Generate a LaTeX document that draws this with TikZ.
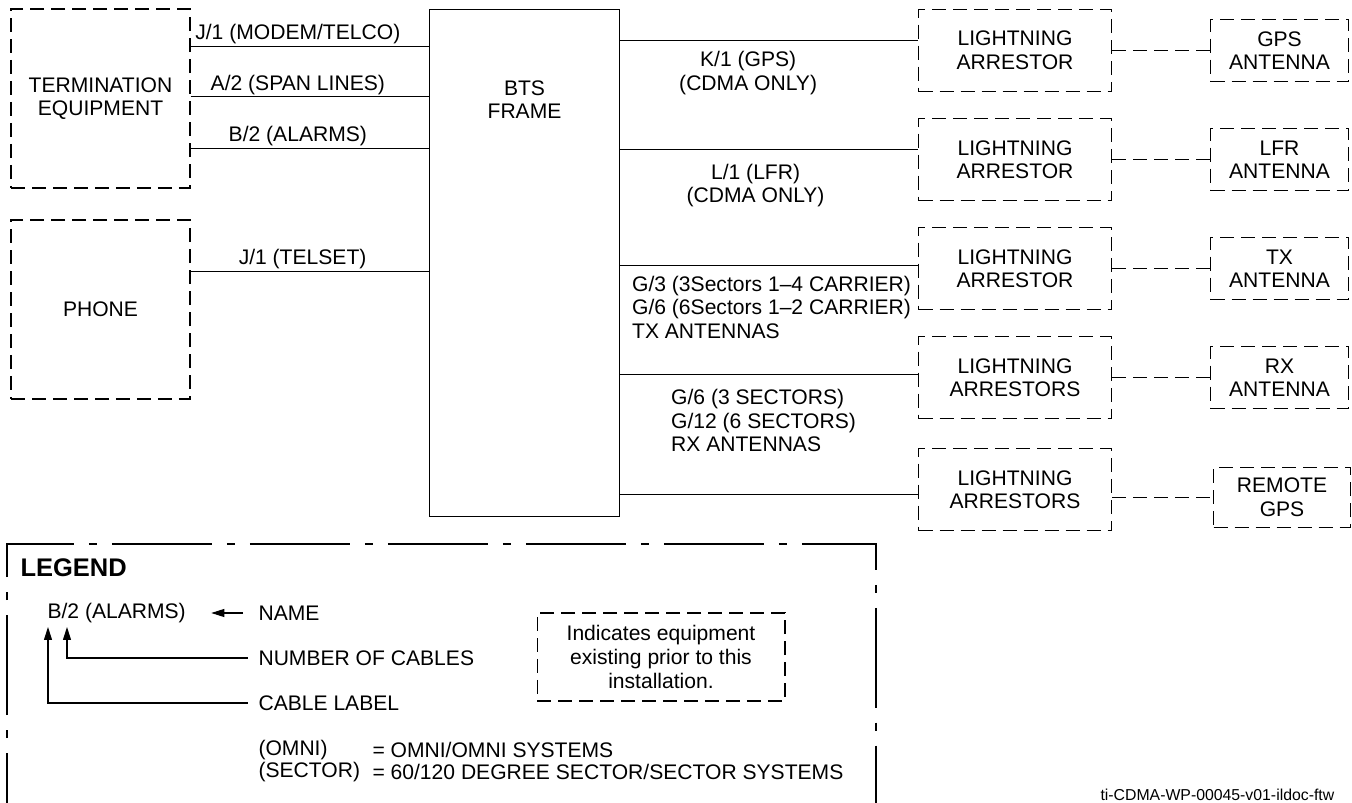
\documentclass[tikz,border=0pt]{standalone}
\usepackage{fontspec}
\setmainfont{Liberation Sans}
\usetikzlibrary{positioning}
\usetikzlibrary{arrows.meta}

\begin{document}
\begin{tikzpicture}[x=0.02cm,y=-0.02cm,>={Triangle[length=0.26cm,width=0.16cm]},
	line width=0.6pt,font=\fontsize{12}{13.4}\selectfont,
	old node/.style={draw,dash pattern=on 0.28cm off 0.14cm,align=center,inner sep=0pt},
	frame node/.style={draw,inner sep=0pt},
	arr node/.style={old node,minimum width=3.86cm,minimum height=1.64cm},
	ant node/.style={old node,minimum width=2.76cm,minimum height=1.24cm},
	link/.style={dash pattern=on 0.28cm off 0.14cm},
	leg text/.style={anchor=west,inner sep=0pt}]

	\useasboundingbox (0,0) rectangle (1352,803);
	\clip (0,0) rectangle (1352,803);

	\node[old node,minimum width=3.58cm,minimum height=3.58cm] (term) at (100.5,98.5) {TERMINATION\\EQUIPMENT};
	\node[old node,minimum width=3.58cm,minimum height=3.58cm] (phone) [below=0.62cm of term] {PHONE};
	\node[frame node,minimum width=3.8cm,minimum height=10.14cm,anchor=north west,
		label={[align=center,anchor=north,yshift=-1.3cm]north:BTS\\FRAME}] (bts) at (429,9) {};

	\node[arr node,anchor=north west] (arr1) at (918,9) {LIGHTNING\\ARRESTOR};
	\node[arr node] (arr2) [below=0.52cm of arr1] {LIGHTNING\\ARRESTOR};
	\node[arr node] (arr3) [below=0.52cm of arr2] {LIGHTNING\\ARRESTOR};
	\node[arr node] (arr4) [below=0.52cm of arr3] {LIGHTNING\\ARRESTORS};
	\node[arr node] (arr5) [below=0.58cm of arr4] {LIGHTNING\\ARRESTORS};

	\node[ant node] (ant1) [right=1.96cm of arr1] {GPS\\ANTENNA};
	\node[ant node] (ant2) [right=1.96cm of arr2] {LFR\\ANTENNA};
	\node[ant node] (ant3) [right=1.96cm of arr3] {TX\\ANTENNA};
	\node[ant node] (ant4) [right=1.96cm of arr4] {RX\\ANTENNA};
	\node[ant node,minimum height=1.2cm,minimum width=2.74cm] (ant5) [right=2.02cm of arr5,yshift=-0.15cm] {REMOTE\\GPS};

	% cables into the frame
	\path[every node/.style={inner sep=1pt}]
	(term.30) edge node [above,pos=0.45] {J/1 (MODEM/TELCO)} (term.30 -| bts.west)
	(term.1.6) edge node [above,pos=0.45] {A/2 (SPAN LINES)} (term.1.6 -| bts.west)
	(term.331.5) edge node [above,pos=0.45] {B/2 (ALARMS)} (term.331.5 -| bts.west)
	(phone.23.3) edge node [above,pos=0.47] {J/1 (TELSET)} (phone.23.3 -| bts.west);

	\path[every node/.style={inner sep=1pt,align=center}]
	(arr1.174 -| bts.east) edge node [below=5pt,pos=0.43] {K/1 (GPS)\\(CDMA ONLY)} (arr1.174)
	(arr2.174 -| bts.east) edge node [below=7pt,pos=0.455] {L/1 (LFR)\\(CDMA ONLY)} (arr2.174)
	(arr3.178 -| bts.east) edge node [anchor=north west,align=left,pos=0.033,yshift=-0.17cm]
		{G/3 (3Sectors 1–4 CARRIER)\\G/6 (6Sectors 1–2 CARRIER)\\TX ANTENNAS} (arr3.178)
	(arr4.178.5 -| bts.east) edge node [anchor=north west,align=left,pos=0.164,yshift=-0.26cm]
		{G/6 (3 SECTORS)\\G/12 (6 SECTORS)\\RX ANTENNAS} (arr4.178.5)
	(arr5.183 -| bts.east) edge (arr5.183);

	% arrestors to antennas
	\path[link]
	(arr1) edge (ant1)
	(arr2) edge (ant2)
	(arr3) edge (ant3)
	(arr4) edge (ant4)
	(arr5.east |- ant5.west) edge (ant5.west);

	% legend
	\draw[dash pattern=on 2cm off 0.3cm on 0.16cm off 0.3cm,dash phase=0.26cm] (7,840) |- (876,544) -- (876,840);
	\node[anchor=west,inner sep=0pt,font=\bfseries\fontsize{14.5}{16}\selectfont] (legtitle) at (20,568) {LEGEND};
	\node[leg text] (alarm) at (47,613) {B/2 (ALARMS)};
	\node[leg text] (nm) at (258,613) {NAME};
	\node[leg text] (ncab) at (258,658) {NUMBER OF CABLES};
	\node[leg text] (clab) at (258,703) {CABLE LABEL};
	\node[leg text] (omni) at (258,750) {(OMNI)};
	\node[leg text] (sect) at (258,772) {(SECTOR)};
	\node[leg text] (omnieq) at (372,750) {= OMNI/OMNI SYSTEMS};
	\node[leg text] (secteq) at (372,772) {= 60/120 DEGREE SECTOR/SECTOR SYSTEMS};
	\coordinate (tipL) at (48,627);
	\coordinate (tipN) at (67,627);
	\draw[->,shorten <=0.3cm,shorten >=0.5cm] (nm.west) -- (alarm.east);
	\draw[<-] (tipN) |- ([xshift=-0.2cm]ncab.west);
	\draw[<-] (tipL) |- ([xshift=-0.2cm]clab.west);
	\node[old node,minimum width=4.96cm,minimum height=1.76cm,align=center] (prior) at (661,657)
		{Indicates equipment\\existing prior to this\\installation.};

	\node[anchor=base west,inner sep=0pt,font=\fontsize{9}{10}\selectfont] (tag) at (1100,800) {ti-CDMA-WP-00045-v01-ildoc-ftw};
\end{tikzpicture}
\end{document}
